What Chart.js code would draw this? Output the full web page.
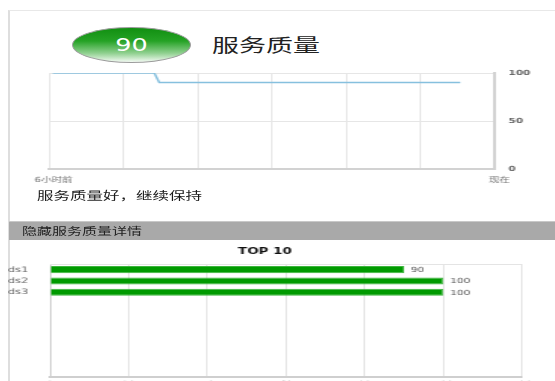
<!DOCTYPE html>
<html>
<head>
<meta charset="utf-8">
<script src="https://cdn.jsdelivr.net/npm/chart.js"></script>
<style>
    body { margin: 0; width: 555px; height: 381px; overflow: hidden; background: #fff; position: relative;
           font-family: "Noto Sans CJK SC", "DejaVu Sans", sans-serif; }
    .frame { position: absolute; left: 8px; top: 10px; width: 560px; height: 400px;
             border-top: 1px solid #e8e8e8; border-left: 2px solid #dedede; }
    /* the whole screenshot is stretched sideways, so text and canvases get scaleX */
    .wide { position: absolute; transform-origin: 0 50%; transform: scaleX(1.5); white-space: nowrap; }
    .badge { position: absolute; left: 72px; top: 27px; width: 117px; height: 34px; border-radius: 50%;
             border: 1px solid #9c9c9c;
             background: linear-gradient(#118f11 0%, #25a225 38%, #8fd08f 74%, #f3faf3 100%); }
    .badge span { position: absolute; left: 0; top: 0; width: 100%; line-height: 34px; text-align: center;
                  color: #fff; font-family: "DejaVu Sans"; font-size: 17px; }
    .bar { position: absolute; left: 9px; top: 221px; width: 546px; height: 19px; background: #a9a9a9;
           border-top: 1px solid #c8c8c8; box-sizing: border-box; }
    canvas { position: absolute; transform-origin: 0 0; transform: scaleX(1.5); }
</style>
</head>
<body>
<div class="frame"></div>
<div class="badge"><span class="wide" style="transform-origin:50% 50%">90</span></div>
<div class="wide" style="left:212px; top:32px; font-size:18px; line-height:24px; color:#222;">服务质量</div>
<canvas id="trend" width="354" height="131" style="left:16px; top:59px;"></canvas>
<div class="wide" style="left:37px; top:188px; font-size:11px; line-height:14px; color:#1a1a1a;">服务质量好，继续保持</div>
<div class="bar"></div>
<div class="wide" style="left:22px; top:223px; font-size:10px; line-height:15px; color:#222;">隐藏服务质量详情</div>
<canvas id="top10" width="365" height="150" style="left:8px; top:242px;"></canvas>

<script>
// service score over the last 6 hours (x = minutes since "6小时前")
const trendMinutes = [3, 85, 89, 332];
const trendScores = [100, 100, 90, 90];
const trendTicks = { 0: '6小时前', 360: '现在' };

// TOP 10 rows, only three of them filled
const rowLabels = ['ds1', 'ds2', 'ds3', '', '', '', '', '', '', ''];
const rowValues = [90, 100, 100];

Chart.defaults.font.family = "'DejaVu Sans', 'Noto Sans CJK SC', sans-serif";
Chart.defaults.animation = false;

const trendCtx = document.getElementById('trend').getContext('2d');
new Chart(trendCtx, {
    type: 'line',
    data: {
        datasets: [{
            data: trendMinutes.map((m, i) => ({ x: m, y: trendScores[i] })),
            borderColor: '#86c0de',
            borderWidth: 1.5,
            pointRadius: 0,
            tension: 0
        }]
    },
    options: {
        responsive: false,
        plugins: { legend: { display: false }, tooltip: { enabled: false } },
        //tick padding is added to the scale padding, so the margins have to be bigger than the labels need
        layout: { padding: { left: 22, right: 0, top: 14, bottom: 0 } },
        scales: {
            x: {
                type: 'linear', min: 0, max: 360,
                ticks: {
                    stepSize: 60, autoSkip: false, maxRotation: 0, padding: 7, labelOffset: 3,
                    font: { size: 7 }, color: '#777',
                    callback: v => trendTicks[v] || ''
                },
                grid: { color: '#e6e6e6', drawTicks: false },
                border: { color: '#d2d2d2', width: 2 },
                afterFit: s => { s.height = 21; }
            },
            y: {
                position: 'right', min: 0, max: 100,
                ticks: { stepSize: 50, padding: 9, font: { size: 7, weight: 'bold' }, color: '#666' },
                grid: { color: '#e6e6e6', drawTicks: false },
                border: { color: '#d2d2d2', width: 2 },
                afterFit: s => { s.width = 34.7; }
            }
        }
    }
});

//top edge of the bar plot, the category axis has no grid of its own
const topLine = {
    id: 'topLine',
    afterDraw(chart) {
        const a = chart.chartArea;
        const ctx = chart.ctx;
        ctx.save();
        ctx.strokeStyle = '#e4e4e4';
        ctx.lineWidth = 1;
        ctx.beginPath();
        ctx.moveTo(a.left, a.top + 0.5);
        ctx.lineTo(a.right, a.top + 0.5);
        ctx.stroke();
        ctx.restore();
    }
};

//numbers written right after each bar
const valueLabels = {
    id: 'valueLabels',
    afterDatasetsDraw(chart) {
        const ctx = chart.ctx;
        ctx.save();
        ctx.font = "7px 'DejaVu Sans'";
        ctx.fillStyle = '#555';
        ctx.textBaseline = 'middle';
        chart.getDatasetMeta(0).data.forEach((bar, i) => {
            ctx.fillText(rowValues[i], bar.x + 4.5, bar.y + 0.5);
        });
        ctx.restore();
    }
};

const topCtx = document.getElementById('top10').getContext('2d');
new Chart(topCtx, {
    type: 'bar',
    data: {
        labels: rowLabels,
        datasets: [{
            data: rowValues,
            backgroundColor: '#009a00',
            borderColor: '#3db53d',
            borderWidth: 1,
            barPercentage: 0.63,
            categoryPercentage: 1
        }]
    },
    options: {
        responsive: false,
        indexAxis: 'y',
        plugins: {
            legend: { display: false },
            tooltip: { enabled: false },
            title: {
                display: true, text: 'TOP 10', color: '#111',
                font: { size: 9, weight: 'bold' },
                padding: { top: 4.6, bottom: 6.6 }
            }
        },
        layout: { padding: { left: 0, right: 22.3, top: 0, bottom: 0 } },
        scales: {
            x: {
                min: 0, max: 120,
                ticks: { stepSize: 20, padding: 3, font: { size: 7 }, color: '#666' },
                grid: { color: '#e4e4e4', drawTicks: false },
                border: { color: '#cfcfcf', width: 2 },
                afterFit: s => { s.height = 15; }
            },
            y: {
                ticks: { crossAlign: 'far', autoSkip: false, font: { size: 7.5 }, color: '#666' },
                grid: { display: false },
                border: { color: '#cfcfcf', width: 1 },
                afterFit: s => { s.width = 28; }
            }
        }
    },
    plugins: [topLine, valueLabels]
});
</script>
</body>
</html>
